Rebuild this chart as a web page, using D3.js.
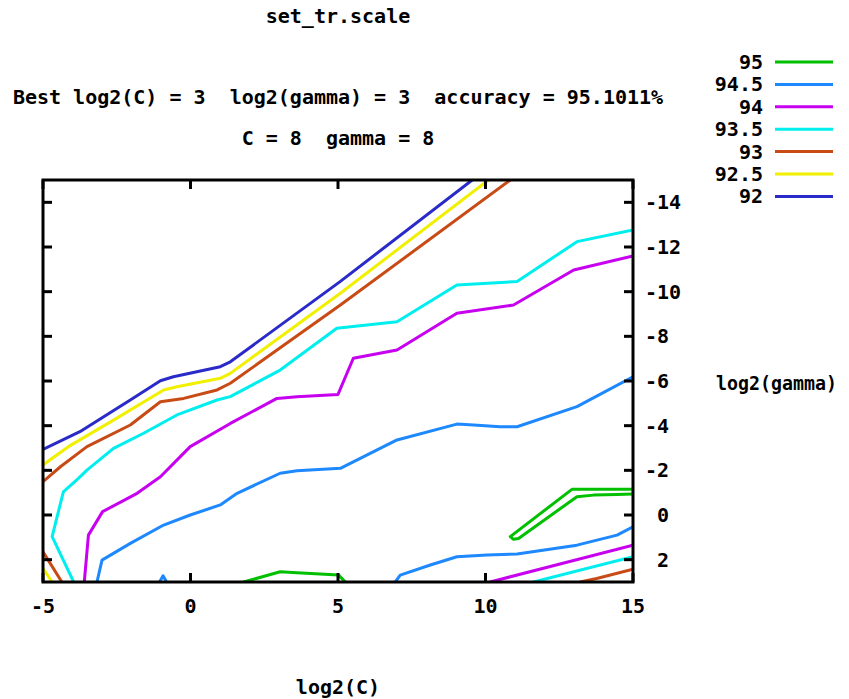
<!DOCTYPE html>
<html>
<head>
<meta charset="utf-8">
<script src="https://cdn.jsdelivr.net/npm/d3@7"></script>
<style>
  body { margin: 0; background: #fff; }
  text { font-family: "DejaVu Sans Mono", "Liberation Mono", monospace; font-weight: bold; font-size: 20px; fill: #000; }
</style>
</head>
<body>
<div id="chart"></div>
<script>
// contour levels (accuracy %) and their lines, as [log2(C), log2(gamma)]
var levels = [95, 94.5, 94, 93.5, 93, 92.5, 92];
var levelLabels = ["95", "94.5", "94", "93.5", "93", "92.5", "92"];

var c95 = [
  [[1.8, 3], [3.04, 2.54], [3.61, 2.59], [5.02, 2.69], [5.25, 3]],
  [[15, -1.15], [12.93, -1.15], [10.84, 0.97], [10.95, 1.09], [11.12, 1.05], [13.1, -0.82], [13.66, -0.89], [14.46, -0.92], [15, -0.94]]
];
var c945 = [
  [[-3.17, 3], [-3.0, 2.02], [-2.04, 1.27], [-0.91, 0.45], [-0.01, 0.0], [1.01, -0.45], [1.58, -0.97], [3.04, -1.87], [3.61, -1.98], [5.08, -2.09], [7.0, -3.36], [9.03, -4.07], [9.6, -4.03], [10.49, -3.95], [11.07, -3.95], [13.1, -4.85], [15, -6.19]],
  [[6.94, 3], [7.11, 2.69], [8.13, 2.24], [9.03, 1.87], [10.05, 1.79], [11.07, 1.75], [13.1, 1.35], [14.46, 0.9], [15, 0.53]],
  [[-1.05, 3], [-0.93, 2.72], [-0.81, 3]]
];
var c94 = [
  [[-3.6, 3], [-3.46, 0.9], [-2.98, -0.15], [-1.81, -0.97], [-1.02, -1.71], [-0.01, -3.06], [1.35, -4.1], [2.93, -5.22], [3.61, -5.3], [5.0, -5.4], [5.52, -7.02], [7.0, -7.39], [9.03, -9.03], [10.95, -9.4], [12.99, -10.97], [15, -11.6]],
  [[10.16, 3], [15, 1.35]]
];
var c935 = [
  [[-3.96, 3], [-4.69, 0.97], [-4.31, -1.04], [-3.8, -1.64], [-3.51, -2.01], [-2.61, -2.98], [-1.59, -3.66], [-0.46, -4.48], [0.9, -5.15], [1.35, -5.3], [3.04, -6.49], [4.96, -8.36], [7.0, -8.65], [9.03, -10.3], [11.07, -10.45], [13.1, -12.24], [15, -12.76]],
  [[11.63, 3], [15, 1.87]]
];
var c93 = [
  [[-5, -1.49], [-4.41, -2.16], [-3.51, -3.06], [-2.04, -4.03], [-1.02, -5.07], [-0.23, -5.22], [0.9, -5.6], [1.35, -5.9], [5.08, -9.4], [10.84, -15]],
  [[-5, 1.65], [-4.36, 3]],
  [[13.21, 3], [13.77, 2.84], [15, 2.43]]
];
var c925 = [
  [[-5, -2.24], [-4.14, -3.06], [-2.61, -4.25], [-0.91, -5.6], [-0.46, -5.74], [1.01, -6.12], [1.35, -6.34], [5.08, -9.93], [10.1, -15]],
  [[-5, 2.39], [-4.69, 3]]
];
var c92 = [
  [[-5, -2.94], [-3.75, -3.73], [-2.04, -5.15], [-1.02, -6.01], [-0.58, -6.19], [1.01, -6.64], [1.35, -6.86], [5.07, -10.45], [9.55, -15]]
];
var contours = [c95, c945, c94, c935, c93, c925, c92];

var xTicks = [-5, 0, 5, 10, 15];
var yTicks = [-14, -12, -10, -8, -6, -4, -2, 0, 2];

var colors = ["#00c000", "#1e88ff", "#c800f0", "#00eeee", "#c84a14", "#f0f000", "#2a2ac8"];

var width = 849;
var height = 699;
var margin = { top: 180, right: 216, bottom: 117, left: 43 };

var svg = d3.select("#chart").append("svg").attr("width", width).attr("height", height);

var x = d3.scaleLinear().domain([-5, 15]).range([margin.left, width - margin.right]);
var y = d3.scaleLinear().domain([-15, 3]).range([margin.top, height - margin.bottom]);
var cx = (x.range()[0] + x.range()[1]) / 2;

// titles
svg.append("text").attr("x", cx).attr("y", 16).attr("text-anchor", "middle").attr("dominant-baseline", "central").text("set_tr.scale");
svg.append("text").attr("x", cx).attr("y", 97).attr("text-anchor", "middle").attr("dominant-baseline", "central")
  .attr("xml:space", "preserve").text("Best log2(C) = 3  log2(gamma) = 3  accuracy = 95.1011%");
svg.append("text").attr("x", cx).attr("y", 138).attr("text-anchor", "middle").attr("dominant-baseline", "central")
  .attr("xml:space", "preserve").text("C = 8  gamma = 8");

svg.append("defs").append("clipPath").attr("id", "plot-clip").append("rect")
  .attr("x", x(-5)).attr("y", y(-15)).attr("width", x(15) - x(-5)).attr("height", y(3) - y(-15));

// contour lines
var line = d3.line().x(function (d) { return x(d[0]); }).y(function (d) { return y(d[1]); });
var lines = svg.append("g").attr("clip-path", "url(#plot-clip)");
contours.forEach(function (paths, i) {
  lines.selectAll(null).data(paths).enter().append("path")
    .attr("d", line)
    .attr("fill", "none")
    .attr("stroke", colors[i])
    .attr("stroke-width", 3)
    .attr("stroke-linejoin", "round")
    .attr("stroke-linecap", "round");
});

// border and ticks
var axes = svg.append("g").attr("stroke", "#000").attr("stroke-width", 3);
var tl = 9;
xTicks.forEach(function (t) {
  axes.append("line").attr("x1", x(t)).attr("x2", x(t)).attr("y1", y(3)).attr("y2", y(3) - tl);
  axes.append("line").attr("x1", x(t)).attr("x2", x(t)).attr("y1", y(-15)).attr("y2", y(-15) + tl);
});
yTicks.forEach(function (t) {
  axes.append("line").attr("x1", x(-5)).attr("x2", x(-5) + tl).attr("y1", y(t)).attr("y2", y(t));
  axes.append("line").attr("x1", x(15)).attr("x2", x(15) - tl).attr("y1", y(t)).attr("y2", y(t));
});
axes.append("rect")
  .attr("x", x(-5)).attr("y", y(-15)).attr("width", x(15) - x(-5)).attr("height", y(3) - y(-15))
  .attr("fill", "none");

// tick labels
svg.selectAll(".xlab").data(xTicks).enter().append("text")
  .attr("class", "xlab")
  .attr("x", function (d) { return x(d); })
  .attr("y", 606)
  .attr("text-anchor", "middle")
  .attr("dominant-baseline", "central")
  .text(function (d) { return d; });

svg.selectAll(".ylab").data(yTicks).enter().append("text")
  .attr("class", "ylab")
  .attr("x", function (d) { return x(15) + 12 + (d < 0 ? 0 : 12); })
  .attr("y", function (d) { return y(d); })
  .attr("dominant-baseline", "central")
  .text(function (d) { return d; });

// axis labels
svg.append("text").attr("x", cx).attr("y", 687).attr("text-anchor", "middle").attr("dominant-baseline", "central").text("log2(C)");
svg.append("text").attr("x", 716).attr("y", 383).attr("dominant-baseline", "central")
  .attr("textLength", 121).attr("lengthAdjust", "spacingAndGlyphs").text("log2(gamma)");

// legend
var legend = svg.append("g");
levels.forEach(function (lv, i) {
  var ly = 62 + i * 22.4;
  legend.append("text").attr("x", 763).attr("y", ly).attr("text-anchor", "end").attr("dominant-baseline", "central").text(levelLabels[i]);
  legend.append("line").attr("x1", 775).attr("x2", 833).attr("y1", ly).attr("y2", ly)
    .attr("stroke", colors[i]).attr("stroke-width", 3);
});
</script>
</body>
</html>
